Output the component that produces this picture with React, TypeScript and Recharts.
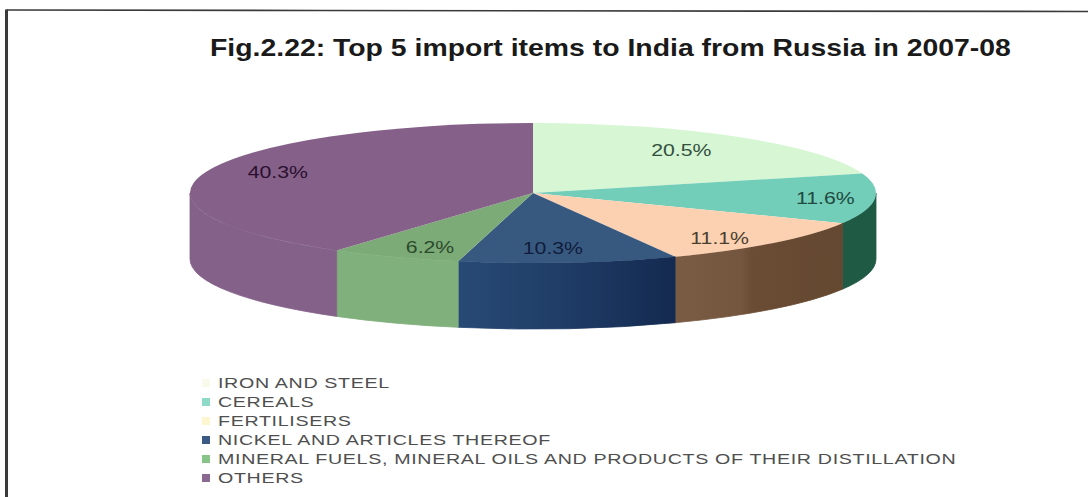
import React from 'react'
import { Legend, Pie, PieChart } from 'recharts'

const W = 1088
const H = 497

const categories = [
  'IRON AND STEEL',
  'CEREALS',
  'FERTILISERS',
  'NICKEL AND ARTICLES THEREOF',
  'MINERAL FUELS, MINERAL OILS AND PRODUCTS OF THEIR DISTILLATION',
  'OTHERS',
]
const shares = [20.5, 11.6, 11.1, 10.3, 6.2, 40.3]

const topColors = ['#d6f6d4', '#72cdb9', '#fcd1b2', '#38597f', '#7cab78', '#856088']
const wallFills = ['#d6f6d4', '#1f5a45', 'url(#wallFert)', 'url(#wallNickel)', '#80b07c', '#846189']
const swatches = ['#f9f9ec', '#8fd9c8', '#fdf6cf', '#3a5a85', '#88c488', '#8a6a90']
const labelColors = ['#34503f', '#1f4a40', '#4a3f2f', '#101c3c', '#2c4a2c', '#2a1030']
// label distance along the slice's mid angle, as fractions of the x and y radius
const labelFactors = [[0.72, 0.77], [0.855, 0.9], [0.777, 0.9], [0.56, 0.8], [0.745, 0.84], [0.78, 1.0]]

const data = categories.map((name, i) => ({ name, value: shares[i], fill: topColors[i], index: i }))

const FONT = '"Liberation Sans", Arial, sans-serif'
const SQUASH = 70 / 343
const DEPTH = 66
const RAD = Math.PI / 180

// recharts angles run counter clockwise from 3 o'clock
const pt = (cx: number, cy: number, r: number, deg: number) => [
  cx + r * Math.cos(deg * RAD),
  cy - r * SQUASH * Math.sin(deg * RAD),
]

function Slice3D(props: any) {
  const { cx, cy, outerRadius: r, startAngle, endAngle, fill, index } = props
  const [sx, sy] = pt(cx, cy, r, startAngle)
  const [ex, ey] = pt(cx, cy, r, endAngle)
  const ry = r * SQUASH
  const large = Math.abs(endAngle - startAngle) > 180 ? 1 : 0
  const top = `M${cx},${cy} L${sx},${sy} A${r},${ry} 0 ${large} 1 ${ex},${ey} Z`

  // only the part of the rim below the horizontal axis shows a wall
  const a = Math.min(startAngle, 0)
  const b = Math.max(endAngle, -180)
  let wall = null
  if (a > b) {
    const [ax, ay] = pt(cx, cy, r, a)
    const [bx, by] = pt(cx, cy, r, b)
    const d = `M${ax},${ay} A${r},${ry} 0 0 1 ${bx},${by} L${bx},${by + DEPTH} A${r},${ry} 0 0 0 ${ax},${ay + DEPTH} Z`
    // the stroke closes the hairline between wall and top face
    wall = <path d={d} fill={wallFills[index]} stroke={wallFills[index]} strokeWidth={0.8} />
  }
  return (
    <g>
      {wall}
      <path d={top} fill={fill} />
    </g>
  )
}

function SliceLabel(props: any) {
  const { cx, cy, outerRadius: r, midAngle, index } = props
  const [fx, fy] = labelFactors[index]
  const x = cx + r * fx * Math.cos(midAngle * RAD)
  const y = cy - r * SQUASH * fy * Math.sin(midAngle * RAD)
  return (
    <text
      transform={`translate(${x},${y}) scale(1.25,1)`}
      textAnchor="middle"
      dominantBaseline="central"
      fontFamily={FONT}
      fontSize={17}
      fill={labelColors[index]}
    >
      {shares[index].toFixed(1)}%
    </text>
  )
}

function LegendList() {
  return (
    <div style={{ fontFamily: FONT, fontSize: 15, letterSpacing: 0.5, color: '#4f4f4f', lineHeight: '19px' }}>
      {categories.map((name, i) => (
        <div key={name} style={{ display: 'flex', alignItems: 'center', whiteSpace: 'nowrap' }}>
          <span style={{ width: 8, height: 8, background: swatches[i], marginRight: 8 }} />
          <span style={{ display: 'inline-block', transform: 'scaleX(1.31)', transformOrigin: 'left center' }}>{name}</span>
        </div>
      ))}
    </div>
  )
}

export default function App() {
  return (
    <div style={{ position: 'fixed', left: 0, top: 0, width: W, height: H, background: '#fff' }}>
      <svg width={W} height={H} style={{ position: 'absolute', left: 0, top: 0 }}>
        <path d="M6.5,10 L320,10.5 L1088,11.5" fill="none" stroke="#3a3a3a" strokeWidth={1.6} />
        <path d="M6.5,9.5 L6.5,497" fill="none" stroke="#3a3a3a" strokeWidth={3} />
        <text
          transform="translate(210,56) scale(1.235,1)"
          fontFamily={FONT}
          fontWeight={700}
          fontSize={23}
          fill="#1a1a1a"
        >
          Fig.2.22: Top 5 import items to India from Russia in 2007-08
        </text>
      </svg>
      <PieChart width={W} height={H} margin={{ top: 0, right: 0, bottom: 0, left: 0 }} style={{ position: 'absolute', left: 0, top: 0 }}>
        <defs>
          <linearGradient id="wallFert" x1="0" x2="1" y1="0" y2="0">
            <stop offset="0" stopColor="#7a5c44" />
            <stop offset="0.4" stopColor="#74553e" />
            <stop offset="0.45" stopColor="#6b4c35" />
            <stop offset="1" stopColor="#644830" />
          </linearGradient>
          <linearGradient id="wallNickel" x1="0" x2="1" y1="0" y2="0">
            <stop offset="0" stopColor="#274a75" />
            <stop offset="0.5" stopColor="#1f3c66" />
            <stop offset="1" stopColor="#142a50" />
          </linearGradient>
        </defs>
        <Pie
          data={data}
          dataKey="value"
          nameKey="name"
          cx={533}
          cy={193}
          outerRadius={343}
          startAngle={90}
          endAngle={-270}
          stroke="none"
          shape={Slice3D}
          label={SliceLabel}
          labelLine={false}
          isAnimationActive={false}
        />
        <Legend content={<LegendList />} layout="vertical" wrapperStyle={{ left: 202, top: 373, width: 800 }} />
      </PieChart>
    </div>
  )
}
